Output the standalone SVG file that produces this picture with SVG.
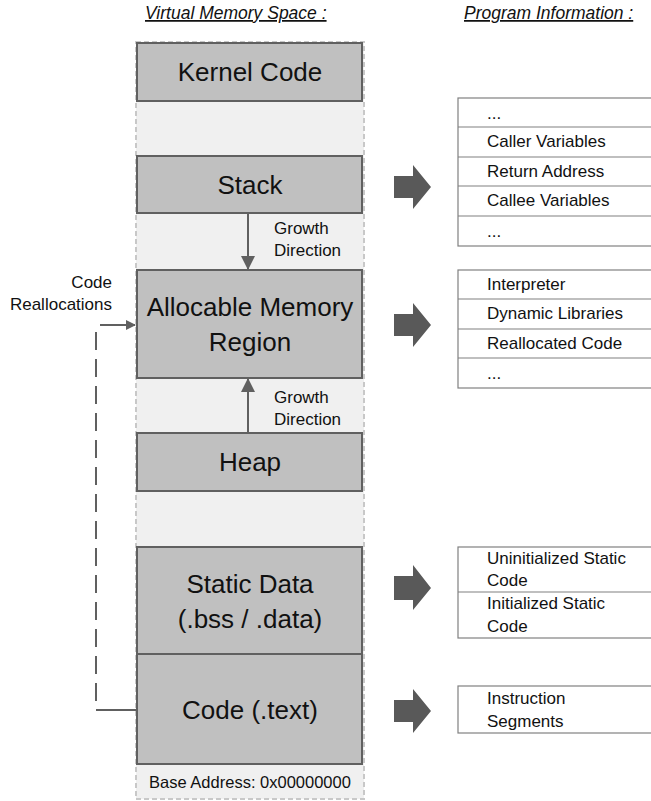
<svg xmlns="http://www.w3.org/2000/svg" width="651" height="801" viewBox="0 0 651 801">
<style>
text{font-family:"Liberation Sans",Arial,sans-serif;fill:#111}
.box{fill:#c0c0c0;stroke:#606060;stroke-width:2}
.big{font-size:26px;text-anchor:middle}
.sm{font-size:17px}
.tbl{fill:#fff;stroke:#808080;stroke-width:1.2}
.row{stroke:#808080;stroke-width:1.2}
.title{font-size:17.5px;font-style:italic;text-decoration:underline}
.blk{fill:#595959}
.ln{stroke:#606060;stroke-width:2;fill:none}
</style>
<defs>
<marker id="ah" markerWidth="10" markerHeight="10" refX="9" refY="5" orient="auto" markerUnits="userSpaceOnUse">
<path d="M0,0 L10,5 L0,10 Z" fill="#606060"/>
</marker>
<marker id="ah2" markerWidth="14" markerHeight="14" refX="13" refY="7" orient="auto" markerUnits="userSpaceOnUse">
<path d="M0,0 L14,7 L0,14 Z" fill="#606060"/>
</marker>
</defs>
<text class="title" x="145" y="19">Virtual Memory Space :</text>
<text class="title" x="464" y="19">Program Information :</text>
<g id="memory-space">
<rect x="136" y="42" width="228" height="757" fill="#f0f0f0" stroke="#c8c8c8" stroke-width="2" stroke-dasharray="5,3"/>
</g>
<g id="kernel-code"><rect class="box" x="137" y="43" width="225" height="58"/><text class="big" x="250" y="81">Kernel Code</text></g>
<g id="stack"><rect class="box" x="137" y="156" width="225" height="57"/><text class="big" x="250" y="194">Stack</text></g>
<g id="allocable"><rect class="box" x="137" y="270" width="225" height="108"/><text class="big" x="250" y="316">Allocable Memory</text><text class="big" x="250" y="351">Region</text></g>
<g id="heap"><rect class="box" x="137" y="433" width="225" height="58"/><text class="big" x="250" y="471">Heap</text></g>
<g id="static-data"><rect class="box" x="137" y="547" width="225" height="107"/><text class="big" x="250" y="593">Static Data</text><text class="big" x="250" y="628">(.bss / .data)</text></g>
<g id="code-text"><rect class="box" x="137" y="654" width="225" height="110"/><text class="big" x="250" y="719">Code (.text)</text></g>
<g id="base-address"><text x="250" y="788" font-size="16.5" text-anchor="middle">Base Address: 0x00000000</text></g>
<g id="labels">
<text class="sm" x="274" y="234">Growth</text><text class="sm" x="274" y="256">Direction</text>
<text class="sm" x="274" y="403">Growth</text><text class="sm" x="274" y="425">Direction</text>
<text class="sm" x="112" y="288" text-anchor="end">Code</text><text class="sm" x="112" y="310" text-anchor="end">Reallocations</text>
</g>
<g id="connectors">
<line class="ln" x1="248" y1="214" x2="248" y2="269" marker-end="url(#ah2)"/>
<line class="ln" x1="248" y1="432" x2="248" y2="379" marker-end="url(#ah2)"/>
<line class="ln" x1="100" y1="325" x2="135" y2="325" marker-end="url(#ah)"/>
<path class="ln" d="M96,332 V710" stroke-dasharray="18,9"/>
<path class="ln" d="M96,710 H136"/>
<path class="blk" d="M394,176 H413 V165 L431,187 L413,209 V198 H394 Z"/>
<path class="blk" d="M394,314 H413 V303 L431,325 L413,347 V336 H394 Z"/>
<path class="blk" d="M394,576 H413 V565 L431,588 L413,610 V600 H394 Z"/>
<path class="blk" d="M394,700 H413 V689 L431,711 L413,733 V722 H394 Z"/>
</g>
<g id="stack-info">
<rect class="tbl" x="458" y="98" width="200" height="148"/>
<line class="row" x1="458" y1="127" x2="651" y2="127"/>
<line class="row" x1="458" y1="157" x2="651" y2="157"/>
<line class="row" x1="458" y1="186" x2="651" y2="186"/>
<line class="row" x1="458" y1="216" x2="651" y2="216"/>
<text class="sm" x="487" y="119">...</text>
<text class="sm" x="487" y="147">Caller Variables</text>
<text class="sm" x="487" y="177">Return Address</text>
<text class="sm" x="487" y="206">Callee Variables</text>
<text class="sm" x="487" y="237">...</text>
</g>
<g id="allocable-info">
<rect class="tbl" x="458" y="270" width="200" height="118"/>
<line class="row" x1="458" y1="299" x2="651" y2="299"/>
<line class="row" x1="458" y1="329" x2="651" y2="329"/>
<line class="row" x1="458" y1="358" x2="651" y2="358"/>
<text class="sm" x="487" y="290">Interpreter</text>
<text class="sm" x="487" y="319">Dynamic Libraries</text>
<text class="sm" x="487" y="349">Reallocated Code</text>
<text class="sm" x="487" y="379">...</text>
</g>
<g id="static-info">
<rect class="tbl" x="458" y="547" width="200" height="91"/>
<line class="row" x1="458" y1="592" x2="651" y2="592"/>
<text class="sm" x="487" y="564">Uninitialized Static</text>
<text class="sm" x="487" y="586">Code</text>
<text class="sm" x="487" y="609">Initialized Static</text>
<text class="sm" x="487" y="632">Code</text>
</g>
<g id="code-info">
<rect class="tbl" x="458" y="686" width="200" height="47"/>
<text class="sm" x="487" y="704">Instruction</text>
<text class="sm" x="487" y="727">Segments</text>
</g>
</svg>
